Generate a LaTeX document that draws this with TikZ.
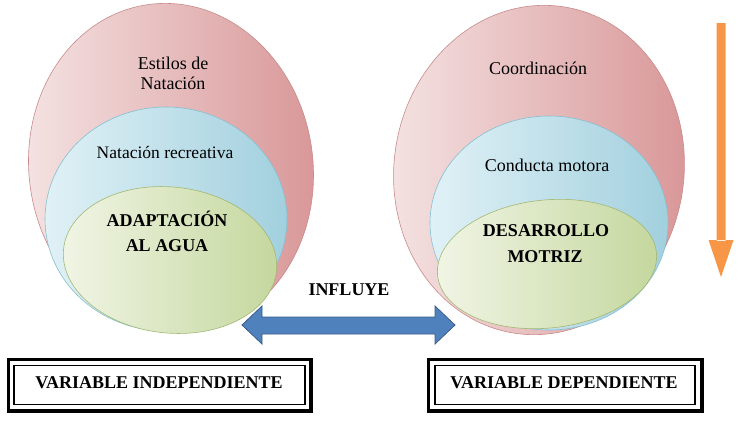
\documentclass[tikz,border=0pt]{standalone}
\usepackage{fontspec}
\setmainfont{Liberation Serif}
\newfontfamily\timesfont{Liberation Serif}
\usetikzlibrary{positioning}
\definecolor{pinkL}{HTML}{F5E4E4}
\definecolor{pinkD}{HTML}{D89596}
\definecolor{pinkE}{HTML}{C98A8B}
\definecolor{aquaL}{HTML}{E0F1F6}
\definecolor{aquaD}{HTML}{A2D0DE}
\definecolor{aquaE}{HTML}{86BFD0}
\definecolor{limeL}{HTML}{F1F5E6}
\definecolor{limeD}{HTML}{C4D79D}
\definecolor{limeE}{HTML}{A3B873}
\definecolor{arrowblue}{HTML}{4F81BD}
\definecolor{arrowedge}{HTML}{385D8A}
\definecolor{arroworange}{HTML}{F79646}
\begin{document}
\begin{tikzpicture}[x=1pt, y=-1pt,
    every node/.style={inner sep=0pt, anchor=base, font=\timesfont\fontsize{18}{20}\selectfont},
    pinkset/.style={left color=pinkL, right color=pinkD, draw=pinkE, line width=0.6pt},
    aquaset/.style={left color=aquaL, right color=aquaD, draw=aquaE, line width=0.6pt},
    limeset/.style={left color=limeL, right color=limeD, draw=limeE, line width=0.6pt},
    bold/.style={font=\timesfont\fontsize{18}{20}\selectfont\bfseries},
    outerbox/.style={draw=black, line width=3.2pt},
    innerbox/.style={draw=black, line width=1.8pt}]
  \useasboundingbox (0,0) rectangle (741,424);

  % conjunto izquierdo
  \shade[pinkset, rotate around={8:(171,168)}] (171,168) ellipse [x radius=142, y radius=165];
  \shade[aquaset] (166,219) ellipse [x radius=121, y radius=112];
  \shade[limeset, rotate around={-6:(170,260)}] (170,260) ellipse [x radius=107, y radius=73];

  % conjunto derecho
  \shade[pinkset, rotate around={-8:(539,170)}] (539,170) ellipse [x radius=145, y radius=165];
  \shade[aquaset] (549,223) ellipse [x radius=119, y radius=107];
  \shade[limeset, rotate around={6:(547,264)}] (547,264) ellipse [x radius=110, y radius=64];

  % textos
  \node (estilos) at (173,69) {Estilos de};
  \node (natacion) at (173,89) {Natación};
  \node[font=\timesfont\fontsize{17.5}{20}\selectfont] (recreativa) at (165,158) {Natación recreativa};
  \node[bold] (adapt) at (167,226) {ADAPTACIÓN};
  \node[bold] (agua) at (167,251) {AL AGUA};
  \node (coord) at (538,74) {Coordinación};
  \node (conducta) at (547,171) {Conducta motora};
  \node[bold] (desarrollo) at (546,236) {DESARROLLO};
  \node[bold] (motriz) at (545,262) {MOTRIZ};
  \node[bold] (influye) at (349,295) {INFLUYE};

  % flecha doble
  \filldraw[fill=arrowblue, draw=arrowedge, line width=0.8pt]
    (242,325) -- (262,306) -- (262,317) -- (435,317) -- (435,306) -- (455,325)
    -- (435,344) -- (435,334) -- (262,334) -- (262,344) -- cycle;

  % flecha naranja
  \fill[arroworange] (716.5,23) rectangle (725.5,241)
    (708.5,240) -- (733.5,240) -- (721,277) -- cycle;

  % recuadros de variables
  \draw[outerbox] (8.5,359.5) rectangle (311,411);
  \draw[innerbox] (14,365.5) rectangle (305,404.5);
  \node[bold] (indep) at (159,388) {VARIABLE INDEPENDIENTE};
  \draw[outerbox] (428.5,359.5) rectangle (702,411);
  \draw[innerbox] (435,365.5) rectangle (695,404.5);
  \node[bold] (dep) at (564,388) {VARIABLE DEPENDIENTE};
\end{tikzpicture}
\end{document}
